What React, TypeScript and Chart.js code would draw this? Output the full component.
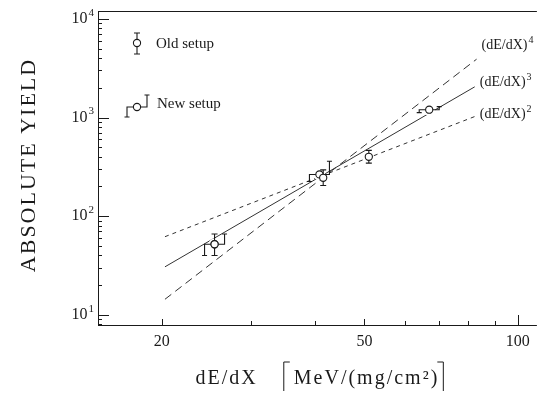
import React, { useEffect, useRef } from "react";
import { Chart, registerables } from "chart.js";

Chart.register(...registerables);

// ---- axis ranges ----
const X_MIN = 15;
const X_MAX = 109;
const Y_MIN = 7.9;
const Y_MAX = 12000;

// ---- tick labels ----
const xTickValues = [20, 50, 100];
const xTickLabels = ["20", "50", "100"];
const xMinorTicks = [30, 40, 60, 70, 80, 90];
const yTickValues = [10, 100, 1000, 10000];
const yTickExp = ["1", "2", "3", "4"];
const yMinorTicks = [
  8, 9, 20, 30, 40, 50, 60, 70, 80, 90, 200, 300, 400, 500, 600, 700, 800, 900,
  2000, 3000, 4000, 5000, 6000, 7000, 8000, 9000,
];

// ---- old setup (symmetric errors) ----
const oldX = [25.4, 41.5, 51];
const oldY = [52, 245, 400];
const oldLow = [40, 205, 345];
const oldHigh = [66, 295, 465];

// ---- new setup (step-shaped markers) ----
const newX = [25.4, 40.8, 67];
const newY = [52, 265, 1200];
const newLow = [40, 225, 1120];
const newHigh = [66, 360, 1290];

// ---- power-law reference lines ----
const powX = [20.3, 82.3];
const pow2Y = [62, 1023];
const pow3Y = [30.7, 2046];
const pow4X = [20.3, 83];
const pow4Y = [14.4, 3900];
const powExp = ["4", "3", "2"];

const FONT = "'Liberation Serif', 'DejaVu Serif', serif";
const INK = "#1a1a1a";

function pts(xs: number[], ys: number[]) {
  return xs.map((x, i) => ({ x, y: ys[i] }));
}

function drawSupText(
  ctx: CanvasRenderingContext2D,
  x: number,
  y: number,
  base: string,
  sup: string,
  baseSize: number,
  supSize: number,
  align: "left" | "right",
  rise: number
) {
  ctx.font = `${baseSize}px ${FONT}`;
  const wb = ctx.measureText(base).width;
  ctx.font = `${supSize}px ${FONT}`;
  const ws = ctx.measureText(sup).width;
  const start = align === "left" ? x : x - wb - ws - 1;
  ctx.textAlign = "left";
  ctx.textBaseline = "middle";
  ctx.font = `${baseSize}px ${FONT}`;
  ctx.fillText(base, start, y);
  ctx.font = `${supSize}px ${FONT}`;
  ctx.fillText(sup, start + wb + 1, y - rise);
}

function drawOldMarkerBars(ctx: CanvasRenderingContext2D, px: number, pyLo: number, pyHi: number) {
  ctx.beginPath();
  ctx.moveTo(px, pyLo);
  ctx.lineTo(px, pyHi);
  ctx.moveTo(px - 3, pyLo);
  ctx.lineTo(px + 3, pyLo);
  ctx.moveTo(px - 3, pyHi);
  ctx.lineTo(px + 3, pyHi);
  ctx.stroke();
}

function drawNewMarkerBars(
  ctx: CanvasRenderingContext2D,
  px: number,
  py: number,
  pyLo: number,
  pyHi: number
) {
  const arm = 10;
  ctx.beginPath();
  ctx.moveTo(px, py);
  ctx.lineTo(px - arm, py);
  ctx.lineTo(px - arm, pyLo);
  ctx.moveTo(px - arm - 2.5, pyLo);
  ctx.lineTo(px - arm + 2.5, pyLo);
  ctx.moveTo(px, py);
  ctx.lineTo(px + arm, py);
  ctx.lineTo(px + arm, pyHi);
  ctx.moveTo(px + arm - 2.5, pyHi);
  ctx.lineTo(px + arm + 2.5, pyHi);
  ctx.stroke();
}

function drawCircle(ctx: CanvasRenderingContext2D, px: number, py: number) {
  ctx.beginPath();
  ctx.arc(px, py, 3.6, 0, Math.PI * 2);
  ctx.fillStyle = "#fff";
  ctx.fill();
  ctx.stroke();
}

const decorPlugin = {
  id: "decor",
  afterDatasetDraw(chart: any, args: any) {
    if (args.index !== 2) return;
    const { ctx } = chart;
    const xs = chart.scales.x;
    const ys = chart.scales.y;
    ctx.save();
    ctx.fillStyle = "#fff";
    newX.forEach((x, i) => {
      ctx.beginPath();
      ctx.arc(xs.getPixelForValue(x), ys.getPixelForValue(newY[i]), 6, 0, Math.PI * 2);
      ctx.fill();
    });
    ctx.strokeStyle = INK;
    ctx.lineWidth = 1.1;
    oldX.forEach((x, i) => {
      drawOldMarkerBars(ctx, xs.getPixelForValue(x), ys.getPixelForValue(oldLow[i]), ys.getPixelForValue(oldHigh[i]));
    });
    newX.forEach((x, i) => {
      drawNewMarkerBars(
        ctx,
        xs.getPixelForValue(x),
        ys.getPixelForValue(newY[i]),
        ys.getPixelForValue(newLow[i]),
        ys.getPixelForValue(newHigh[i])
      );
    });
    ctx.restore();
  },
  afterDraw(chart: any) {
    const { ctx, chartArea } = chart;
    const { left, right, top, bottom } = chartArea;
    const xs = chart.scales.x;
    const ys = chart.scales.y;
    ctx.save();
    ctx.strokeStyle = INK;
    ctx.fillStyle = INK;
    ctx.lineWidth = 1;
    ctx.beginPath();
    ctx.moveTo(left + 0.5, top);
    ctx.lineTo(left + 0.5, bottom);
    ctx.moveTo(left, bottom + 0.5);
    ctx.lineTo(right, bottom + 0.5);
    ctx.moveTo(left, top + 0.5);
    ctx.lineTo(right, top + 0.5);
    ctx.stroke();

    ctx.beginPath();
    yTickValues.forEach((v) => {
      const py = Math.round(ys.getPixelForValue(v)) + 0.5;
      ctx.moveTo(left, py);
      ctx.lineTo(left + 11, py);
    });
    yMinorTicks.forEach((v) => {
      const py = Math.round(ys.getPixelForValue(v)) + 0.5;
      ctx.moveTo(left, py);
      ctx.lineTo(left + 4, py);
    });
    xTickValues.forEach((v, i) => {
      const px = Math.round(xs.getPixelForValue(v)) + 0.5;
      ctx.moveTo(px, bottom);
      ctx.lineTo(px, bottom - (i === 2 ? 10 : 6));
    });
    xMinorTicks.forEach((v) => {
      const px = Math.round(xs.getPixelForValue(v)) + 0.5;
      ctx.moveTo(px, bottom);
      ctx.lineTo(px, bottom - 4);
    });
    ctx.stroke();

    yTickValues.forEach((v, i) => {
      drawSupText(ctx, left - 4, ys.getPixelForValue(v), "10", yTickExp[i], 16, 11, "right", 6);
    });
    ctx.font = `16px ${FONT}`;
    ctx.textAlign = "center";
    ctx.textBaseline = "alphabetic";
    xTickValues.forEach((v, i) => {
      ctx.fillText(xTickLabels[i], xs.getPixelForValue(v), bottom + 21);
    });

    // y title
    ctx.save();
    ctx.translate(29, (top + bottom) / 2 - 2);
    ctx.rotate(-Math.PI / 2);
    ctx.font = `22px ${FONT}`;
    (ctx as any).letterSpacing = "2px";
    ctx.textAlign = "center";
    ctx.textBaseline = "middle";
    ctx.fillText("ABSOLUTE YIELD", 1, 0);
    ctx.restore();

    // x title
    const base = bottom + 59;
    ctx.save();
    ctx.font = `20px ${FONT}`;
    (ctx as any).letterSpacing = "2px";
    ctx.textAlign = "left";
    ctx.textBaseline = "alphabetic";
    const t1 = "dE/dX";
    const t2 = "MeV/(mg/cm²)";
    const w1 = ctx.measureText(t1).width;
    const w2 = ctx.measureText(t2).width;
    const gap = 26;
    const total = w1 + gap + 10 + w2 + 6;
    let cx = (left + right) / 2 + 3 - total / 2;
    ctx.fillText(t1, cx, base);
    cx += w1 + gap;
    ctx.beginPath();
    ctx.moveTo(cx + 6, base - 22);
    ctx.lineTo(cx, base - 22);
    ctx.lineTo(cx, base + 7);
    ctx.stroke();
    cx += 10;
    ctx.fillText(t2, cx, base);
    cx += w2 + 4;
    ctx.beginPath();
    ctx.moveTo(cx - 6, base - 22);
    ctx.lineTo(cx, base - 22);
    ctx.lineTo(cx, base + 7);
    ctx.stroke();
    ctx.restore();

    // power labels at line ends
    const ends = [
      { x: pow4X[1], y: pow4Y[1], dy: -14 },
      { x: powX[1], y: pow3Y[1], dy: -4 },
      { x: powX[1], y: pow2Y[1], dy: -2 },
    ];
    ctx.fillStyle = INK;
    ends.forEach((e, i) => {
      drawSupText(ctx, xs.getPixelForValue(e.x) + 5, ys.getPixelForValue(e.y) + e.dy, "(dE/dX)", powExp[i], 14, 10, "left", 5);
    });

    // legend
    ctx.lineWidth = 1.1;
    const lx = left + 39;
    const oy = top + 32;
    drawOldMarkerBars(ctx, lx, oy + 11, oy - 10);
    drawCircle(ctx, lx, oy);
    ctx.fillStyle = INK;
    ctx.font = `15px ${FONT}`;
    ctx.textAlign = "left";
    ctx.textBaseline = "middle";
    ctx.fillText("Old setup", lx + 19, oy + 1);
    const ny = top + 96;
    drawNewMarkerBars(ctx, lx, ny, ny + 10, ny - 12);
    drawCircle(ctx, lx, ny);
    ctx.fillStyle = INK;
    ctx.fillText("New setup", lx + 20, ny - 3);
    ctx.restore();
  },
};

export default function App() {
  const ref = useRef<HTMLCanvasElement | null>(null);
  useEffect(() => {
    if (!ref.current) return;
    const chart = new Chart(ref.current, {
      type: "scatter",
      data: {
        datasets: [
          {
            label: "Old setup",
            data: pts(oldX, oldY),
            pointStyle: "circle",
            pointRadius: 3.6,
            pointBackgroundColor: "#fff",
            pointBorderColor: INK,
            pointBorderWidth: 1.1,
            order: 1,
          } as any,
          {
            label: "New setup",
            data: pts(newX, newY),
            pointStyle: "circle",
            pointRadius: 3.6,
            pointBackgroundColor: "#fff",
            pointBorderColor: INK,
            pointBorderWidth: 1.1,
            order: 1,
          } as any,
          {
            type: "line",
            label: "(dE/dX)^3",
            data: pts(powX, pow3Y),
            borderColor: "#333",
            borderWidth: 1,
            pointRadius: 0,
            order: 2,
          } as any,
          {
            type: "line",
            label: "(dE/dX)^2",
            data: pts(powX, pow2Y),
            borderColor: "#333",
            borderWidth: 1,
            borderDash: [4, 4],
            pointRadius: 0,
            order: 2,
          } as any,
          {
            type: "line",
            label: "(dE/dX)^4",
            data: pts(pow4X, pow4Y),
            borderColor: "#333",
            borderWidth: 1,
            borderDash: [8, 5],
            pointRadius: 0,
            order: 2,
          } as any,
        ],
      },
      options: {
        animation: false,
        responsive: false,
        devicePixelRatio: 1,
        layout: { padding: { left: 98, right: 0, top: 11, bottom: 68 } },
        plugins: { legend: { display: false }, tooltip: { enabled: false } },
        scales: {
          x: { type: "logarithmic", min: X_MIN, max: X_MAX, display: false },
          y: { type: "logarithmic", min: Y_MIN, max: Y_MAX, display: false },
        },
      },
      plugins: [decorPlugin],
    });
    return () => chart.destroy();
  }, []);
  return (
    <div style={{ position: "fixed", left: 0, top: 0, width: 542, height: 393, background: "#fff" }}>
      <canvas ref={ref} width={542} height={393} />
    </div>
  );
}
